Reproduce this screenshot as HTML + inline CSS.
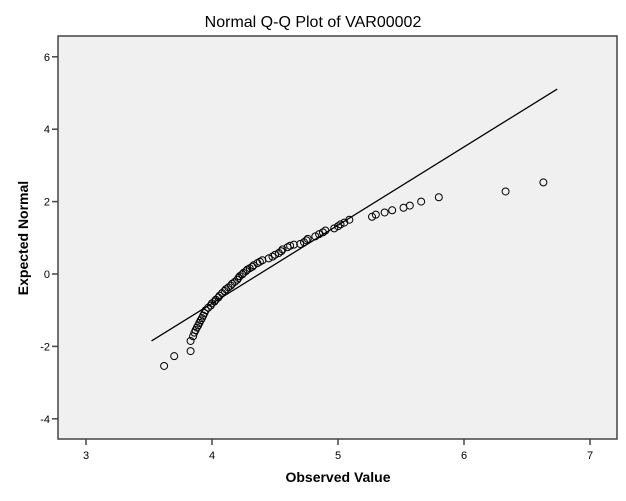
<!DOCTYPE html>
<html><head><meta charset="utf-8"><style>
body{margin:0;background:#fff;}
svg{display:block;font-family:"Liberation Sans",Arial,sans-serif;}
</style></head><body>
<svg id="chart" width="626" height="501"></svg>
<script>
const obsValues=[3.62,3.70,3.83,3.83,3.85,3.86,3.87,3.88,3.89,3.90,3.91,3.92,3.93,3.94,3.95,3.97,3.99,4.0,4.02,4.03,4.05,4.06,4.08,4.1,4.11,4.13,4.15,4.16,4.18,4.2,4.21,4.22,4.24,4.25,4.27,4.28,4.3,4.32,4.33,4.36,4.38,4.4,4.45,4.48,4.5,4.53,4.55,4.56,4.6,4.62,4.65,4.7,4.73,4.75,4.76,4.82,4.85,4.88,4.9,4.97,5.0,5.02,5.05,5.09,5.27,5.3,5.37,5.43,5.52,5.57,5.66,5.8,6.33,6.63];
const expValues=[-2.54,-2.27,-2.13,-1.85,-1.72,-1.62,-1.55,-1.48,-1.42,-1.35,-1.28,-1.22,-1.15,-1.08,-1.0,-0.93,-0.87,-0.81,-0.76,-0.71,-0.65,-0.6,-0.53,-0.47,-0.42,-0.37,-0.32,-0.27,-0.22,-0.16,-0.11,-0.06,-0.01,0.03,0.08,0.12,0.16,0.2,0.24,0.3,0.34,0.38,0.43,0.48,0.53,0.58,0.63,0.68,0.74,0.78,0.81,0.83,0.88,0.93,0.97,1.04,1.1,1.15,1.2,1.26,1.32,1.37,1.42,1.5,1.58,1.64,1.7,1.76,1.83,1.89,2.0,2.12,2.28,2.53];
const lineX=[3.52,6.74];
const lineY=[-1.85,5.11];
const xTicks=[3,4,5,6,7];
const yTicks=[-4,-2,0,2,4,6];

const L=58,T=36,R=617,B=439;
const xs=v=>86+(v-3)*126;
const ys=v=>274-v*36.2;
const svg=document.getElementById('chart');
const NS='http://www.w3.org/2000/svg';
function mk(tag,attrs,parent){const e=document.createElementNS(NS,tag);for(const k in attrs)e.setAttribute(k,attrs[k]);(parent||svg).appendChild(e);return e;}

let t=mk('text',{x:313,y:27,'text-anchor':'middle','font-size':'16'});
t.textContent='Normal Q-Q Plot of VAR00002';



let bg=mk('rect',{x:L,y:T,width:R-L,height:B-T,fill:'#f0f0f0',stroke:'#444','stroke-width':1.5});



xTicks.forEach(v=>{
  const x=xs(v);
  let tk=mk('line',{x1:x,x2:x,y1:B,y2:B+6,stroke:'#444','stroke-width':1.5});
  
  
  let lb=mk('text',{x:x,y:B+20,'text-anchor':'middle','font-size':'11'});
  lb.textContent=v;
  
  
});
yTicks.forEach(v=>{
  const y=ys(v);
  let tk=mk('line',{x1:L-6,x2:L,y1:y,y2:y,stroke:'#444','stroke-width':1.5});
  
  
  let lb=mk('text',{x:L-8,y:y+4,'text-anchor':'end','font-size':'11'});
  lb.textContent=v;
  
  
});

let xt=mk('text',{x:338,y:482,'text-anchor':'middle','font-size':'14','font-weight':'bold'});
xt.textContent='Observed Value';


let yt=mk('text',{x:0,y:0,'text-anchor':'middle','font-size':'14','font-weight':'bold',transform:'translate(28,238) rotate(-90)'});
yt.textContent='Expected Normal';



let ln=mk('line',{x1:xs(lineX[0]),y1:ys(lineY[0]),x2:xs(lineX[1]),y2:ys(lineY[1]),stroke:'#000','stroke-width':1.3});



obsValues.forEach((v,i)=>{
  let c=mk('circle',{cx:xs(v),cy:ys(expValues[i]),r:3.5,fill:'none',stroke:'#000','stroke-width':1});
  
  
});
</script>
</body></html>
